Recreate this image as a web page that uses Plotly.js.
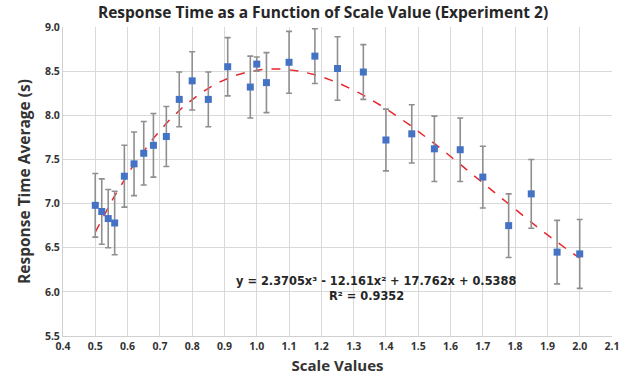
<!DOCTYPE html>
<html>
<head>
<meta charset="utf-8">
<script src="https://cdn.plot.ly/plotly-3.0.1.min.js"></script>
<style>html,body{margin:0;padding:0;background:#fff;}#chart{width:636px;height:378px;}</style>
</head>
<body>
<div id="chart"></div>
<script>
const scaleValues = [0.50, 0.52, 0.54, 0.56, 0.59, 0.62, 0.65, 0.68, 0.72, 0.76, 0.80, 0.85, 0.91, 0.98, 1.00, 1.03, 1.10, 1.18, 1.25, 1.33, 1.40, 1.48, 1.55, 1.63, 1.70, 1.78, 1.85, 1.93, 2.00];
const responseAvg = [6.98, 6.91, 6.83, 6.78, 7.31, 7.45, 7.57, 7.66, 7.76, 8.18, 8.39, 8.18, 8.55, 8.32, 8.58, 8.37, 8.60, 8.67, 8.53, 8.49, 7.72, 7.79, 7.62, 7.61, 7.30, 6.75, 7.11, 6.45, 6.43];
const errorSize = [0.36, 0.37, 0.33, 0.36, 0.35, 0.36, 0.36, 0.36, 0.34, 0.31, 0.33, 0.31, 0.33, 0.35, 0.08, 0.34, 0.35, 0.31, 0.36, 0.31, 0.35, 0.33, 0.37, 0.36, 0.35, 0.36, 0.39, 0.36, 0.39];
// cubic trendline coefficients as shown on the chart (c3, c2, c1, c0)
const trendCoefs = [2.3705, -12.161, 17.762, 0.5388];
const xTicks = [0.4,0.5,0.6,0.7,0.8,0.9,1.0,1.1,1.2,1.3,1.4,1.5,1.6,1.7,1.8,1.9,2.0,2.1];
const yTicks = [5.5,6.0,6.5,7.0,7.5,8.0,8.5,9.0];

const xMin = Math.min(...scaleValues), xMax = Math.max(...scaleValues);
const tx = [], ty = [];
for (let i = 0; i <= 150; i++) {
  const x = xMin + (xMax - xMin) * i / 150;
  tx.push(x);
  ty.push(((trendCoefs[0]*x + trendCoefs[1])*x + trendCoefs[2])*x + trendCoefs[3]);
}

const font = "'Open Sans', 'Liberation Sans', sans-serif";
const annFont = "'DejaVu Sans', sans-serif";
const txt = '#333333';
const traces = [
  {x: tx, y: ty, mode: 'lines', line: {color: '#e8262b', width: 1.5, dash: 'dash'}, hoverinfo: 'skip', showlegend: false},
  {x: scaleValues, y: responseAvg, mode: 'markers', type: 'scatter', showlegend: false,
   marker: {symbol: 'square', size: 7, color: '#4472C4'},
   error_y: {type: 'data', array: errorSize, visible: true, color: '#8f8f8f', thickness: 1.6, width: 3}}
];
const layout = {
  width: 636, height: 378,
  margin: {l: 63, r: 24, t: 27, b: 42},
  paper_bgcolor: '#fff', plot_bgcolor: '#fff',
  title: {text: 'Response Time as a Function of Scale Value (Experiment 2)', x: 0.508, xanchor: 'center', y: 0.968, yanchor: 'middle',
          font: {family: font, size: 15.5, color: '#262626', weight: 700}},
  xaxis: {range: [0.4, 2.1], tickvals: xTicks, ticktext: xTicks.map(v => v.toFixed(1)),
          showgrid: true, gridcolor: '#d9d9d9', gridwidth: 1, zeroline: false,
          showline: true, linecolor: '#d0d0d0', linewidth: 1, ticks: '',
          tickfont: {family: font, size: 10.5, color: txt, weight: 700},
          title: {text: 'Scale Values', font: {family: font, size: 15, color: txt, weight: 700}, standoff: 8}},
  yaxis: {range: [5.5, 9.0], tickvals: yTicks, ticktext: yTicks.map(v => v.toFixed(1)),
          showgrid: true, gridcolor: '#d9d9d9', gridwidth: 1, zeroline: false,
          showline: true, linecolor: '#d0d0d0', linewidth: 1, ticks: '',
          tickfont: {family: font, size: 10.5, color: txt, weight: 700},
          title: {text: 'Response Time Average (s)', font: {family: font, size: 15.5, color: txt, weight: 700}, standoff: 10}},
  annotations: [
    {xref: 'paper', yref: 'paper', x: 0.570, y: 0.178, showarrow: false, xanchor: 'center', yanchor: 'middle',
     text: 'y = 2.3705x³ - 12.161x² + 17.762x + 0.5388', font: {family: annFont, size: 11.4, color: '#262626', weight: 700}},
    {xref: 'paper', yref: 'paper', x: 0.552, y: 0.129, showarrow: false, xanchor: 'center', yanchor: 'middle',
     text: 'R² = 0.9352', font: {family: annFont, size: 11.4, color: '#262626', weight: 700}}
  ]
};
Plotly.newPlot('chart', traces, layout, {displayModeBar: false, staticPlot: true});
</script>
</body>
</html>
